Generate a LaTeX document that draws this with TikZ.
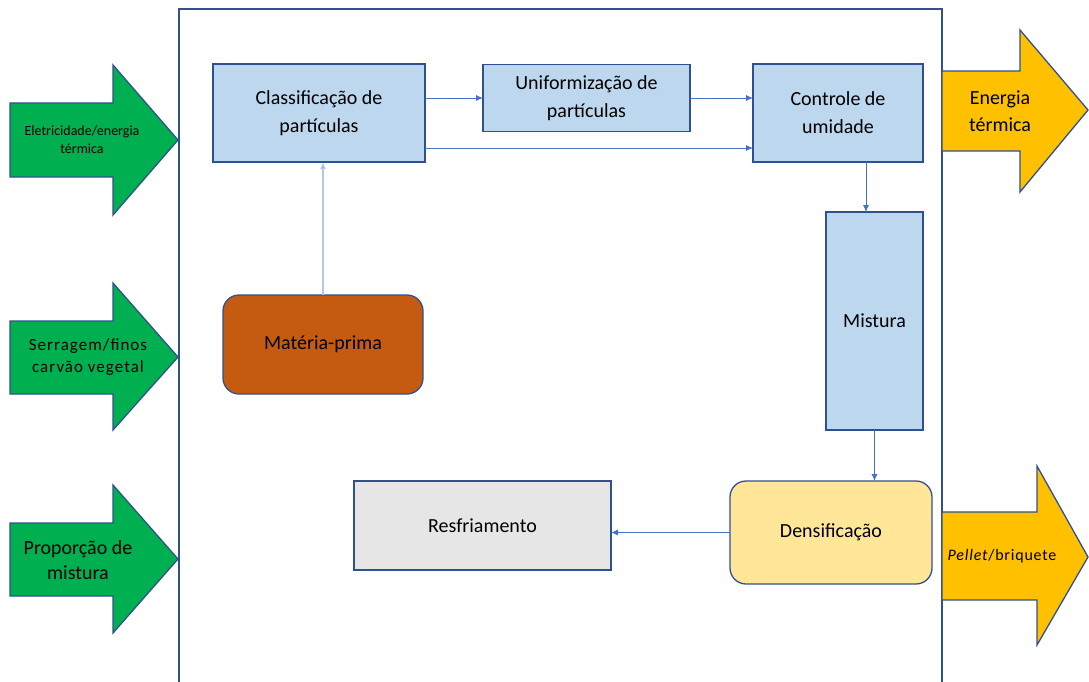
\documentclass[tikz,border=0pt]{standalone}
\usepackage{fontspec}
\setmainfont{Carlito}
\usetikzlibrary{arrows.meta}
\definecolor{bfill}{HTML}{BDD7EE}
\definecolor{bdraw}{HTML}{2F528F}
\definecolor{cline}{HTML}{4472C4}
\definecolor{lline}{HTML}{B4C7E7}
\definecolor{gfill}{HTML}{00B050}
\definecolor{ofill}{HTML}{FFC000}
\definecolor{mfill}{HTML}{C55A11}
\definecolor{dfill}{HTML}{FFE699}
\definecolor{rfill}{HTML}{E7E6E6}
\tikzset{
  box/.style={draw=bdraw, line width=1.3pt, inner sep=0pt, outer sep=0pt, align=center,
    font=\fontsize{20}{28}\selectfont},
  bluebox/.style={box, fill=bfill},
  conn/.style={draw=cline, line width=0.8pt, -{Latex[length=7pt,width=6pt]}},
  bigarrow/.style={draw=bdraw, line width=1.3pt, line join=miter},
  lbl/.style={align=center, inner sep=0pt}
}
\begin{document}
\begin{tikzpicture}[x=1pt,y=-1pt]
\useasboundingbox (0,0) rectangle (1089,682);
% frame
\draw[draw=bdraw, line width=1.3pt] (179,682) -- (179,9) -- (942,9) -- (942,682);
% left input arrows
\draw[bigarrow, fill=gfill] (10,103) -- (113,103) -- (113,65) -- (178,140) -- (113,215) -- (113,177) -- (10,177) -- cycle;
\node[lbl, font=\fontsize{14}{18}\selectfont] (in1) at (82,140) {Eletricidade/energia\\térmica};
\draw[bigarrow, fill=gfill] (10,321) -- (113,321) -- (113,283) -- (178,357) -- (113,430) -- (113,394) -- (10,394) -- cycle;
\node[lbl, font=\fontsize{17}{22}\selectfont\addfontfeature{LetterSpace=6}] (in2) at (88,357) {Serragem/finos\\carvão vegetal};
\draw[bigarrow, fill=gfill] (10,523) -- (113,523) -- (113,485) -- (178,559) -- (113,633) -- (113,596) -- (10,596) -- cycle;
\node[lbl, font=\fontsize{20}{25}\selectfont] (in3) at (78,560) {Proporção de\\mistura};
% right output arrows
\draw[bigarrow, fill=ofill] (942,71) -- (1020,71) -- (1020,30) -- (1088,110) -- (1020,192) -- (1020,151) -- (942,151) -- cycle;
\node[lbl, font=\fontsize{20}{27}\selectfont] (out1) at (1000,111) {Energia\\térmica};
\draw[bigarrow, fill=ofill] (942,512) -- (1037,512) -- (1037,466) -- (1088,557) -- (1037,645) -- (1037,600) -- (942,600) -- cycle;
\node[lbl, font=\fontsize{16}{20}\selectfont\addfontfeature{LetterSpace=5}] (out2) at (1002,556) {\textit{Pellet}/briquete};
% process boxes
\node[bluebox, minimum width=212pt, minimum height=98pt] (cls) at (319,113) {Classificação de\\partículas};
\node[bluebox, minimum width=207pt, minimum height=67pt] (uni) at (586.5,98) {Uniformização de\\partículas};
\node[bluebox, minimum width=170pt, minimum height=98pt] (ctl) at (838,113) {Controle de\\umidade};
\node[bluebox, minimum width=97pt, minimum height=218pt] (mis) at (874.5,321) {Mistura};
\node[box, fill=dfill, rounded corners=16pt, minimum width=202pt, minimum height=103pt] (den) at (831,532.5) {Densificação};
\node[box, fill=rfill, minimum width=257pt, minimum height=89pt] (res) at (482.5,525.5) {Resfriamento};
\node[box, fill=mfill, rounded corners=16pt, minimum width=200pt, minimum height=99pt] (mat) at (323,344.5) {Matéria-prima};
% connectors
\draw[conn] (cls.east |- uni.west) -- (uni.west);
\draw[conn] (uni.east) -- (ctl.west |- uni.east);
\draw[conn] ([yshift=-35pt]cls.east) -- ([yshift=-35pt]ctl.west);
\draw[conn] ([xshift=28pt]ctl.south) -- ([xshift=28pt]ctl.south |- mis.north);
\draw[conn] (mis.south) -- (mis.south |- den.north);
\draw[conn] (den.west) -- (res.east |- den.west);
\draw[conn, draw=lline, line width=1.3pt, {Latex[length=7pt,width=6pt,fill=cline]}-] (mat.north |- cls.south) -- (mat.north);
\end{tikzpicture}
\end{document}
